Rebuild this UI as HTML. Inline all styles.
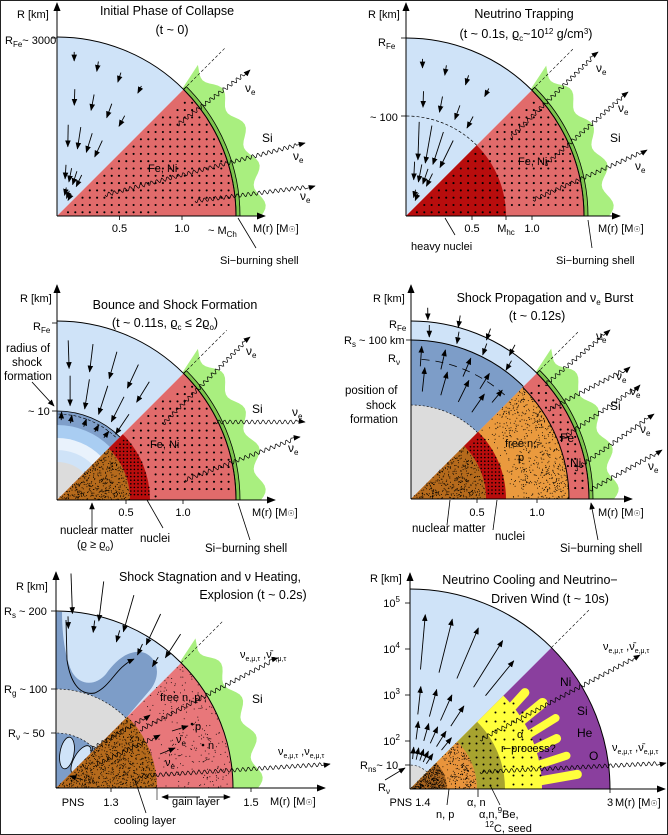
<!DOCTYPE html>
<html><head><meta charset="utf-8">
<style>
html,body{margin:0;padding:0;background:#fff;}
svg{display:block;font-family:"Liberation Sans",sans-serif;}
</style></head>
<body>
<svg id="fig" width="668" height="835" viewBox="0 0 668 835" xmlns="http://www.w3.org/2000/svg">
<defs>
<marker id="ah" viewBox="0 0 10 10" refX="9" refY="5" markerWidth="7" markerHeight="7" orient="auto-start-reverse" markerUnits="userSpaceOnUse"><path d="M0,1 L10,5 L0,9 Z" fill="#000"/></marker>
<marker id="ahb" viewBox="0 0 10 10" refX="9" refY="5" markerWidth="9" markerHeight="9" orient="auto-start-reverse" markerUnits="userSpaceOnUse"><path d="M0,1 L10,5 L0,9 Z" fill="#000"/></marker>
</defs>
<rect x="0.5" y="0.5" width="667" height="834" fill="none" stroke="#222" stroke-width="1"/>
</svg>
<script>
const SVG=document.getElementById('fig');
const NS='http://www.w3.org/2000/svg';
// panel tick labels
const p1Ticks=['0.5','1.0'];
const p1TickM=[0.5,1.0];
const p2Ticks=['0.5','M','1.0'];
const p3Ticks=['0.5','1.0'];
const p4Ticks=['0.5','1.0'];
const p5Ticks=['PNS','1.3','1.5'];
const p6YTicks=['10','10','10','10'];
const p6YExp=['5','4','3','2'];

function mk(tag,attrs,parent,name){
  const e=document.createElementNS(NS,tag);
  for(const k in attrs)e.setAttribute(k,attrs[k]);
  
  
  (parent||SVG).appendChild(e);
  return e;
}
function P(o,r,a){const t=a*Math.PI/180;return [o[0]+r*Math.cos(t),o[1]-r*Math.sin(t)];}
function sector(o,r0,r1,a0,a1,fill,name,extra){
  const A=P(o,r1,a0),B=P(o,r1,a1);
  let d=`M${A[0]},${A[1]} A${r1},${r1} 0 0 0 ${B[0]},${B[1]} `;
  if(r0>0){const C=P(o,r0,a1),D=P(o,r0,a0);d+=`L${C[0]},${C[1]} A${r0},${r0} 0 0 1 ${D[0]},${D[1]} Z`;}
  else d+=`L${o[0]},${o[1]} Z`;
  const at=Object.assign({d:d,fill:fill},extra||{});
  return mk('path',at,null,name);
}
function arc(o,r,a0,a1,name,extra){
  const A=P(o,r,a0),B=P(o,r,a1);
  return mk('path',Object.assign({d:`M${A[0]},${A[1]} A${r},${r} 0 0 0 ${B[0]},${B[1]}`,fill:'none',stroke:'#000','stroke-width':1},extra||{}),null,name);
}
function dots(o,r0,r1,a0,a1,step,rad,name){
  const g=mk('g',{fill:'#000'},null,name);
  for(let x=o[0]+step/2;x<o[0]+r1;x+=step){
    for(let y=o[1]-step/2;y>o[1]-r1;y-=step){
      const dx=x-o[0],dy=o[1]-y,r=Math.hypot(dx,dy),a=Math.atan2(dy,dx)*180/Math.PI;
      if(r>r0+2&&r<r1-2&&a>a0+2&&a<a1-2)mk('circle',{cx:x.toFixed(1),cy:y.toFixed(1),r:rad},g,'dot');
    }
  }
}
function speckle(o,r0,r1,a0,a1,n,name){
  const g=mk('g',{fill:'#000'},null,name);
  let s=7;
  for(let i=0;i<n;i++){
    s=(s*9301+49297)%233280;const u=s/233280;
    s=(s*9301+49297)%233280;const v=s/233280;
    const r=r0+(r1-r0)*Math.sqrt(u),a=a0+(a1-a0)*v;
    const p=P(o,r,a);
    mk('circle',{cx:p[0].toFixed(1),cy:p[1].toFixed(1),r:0.5},g,'speck');
  }
}
function siBlob(o,R,name){
  let pts=[];
  for(let a=0;a<=47;a+=1){const r=R+25+5*Math.sin(2*Math.PI*a/11.5);pts.push(P(o,r,a));}
  const top=P(o,R,45.5);
  let d='M'+pts.map(p=>p[0].toFixed(1)+','+p[1].toFixed(1)).join(' L')+` L${top[0]},${top[1]} `;
  const b=P(o,R,0);d+=`A${R},${R} 0 0 1 ${b[0]},${b[1]} Z`;
  mk('path',{d:d,fill:'#a9ef7f'},null,name);
}
function shell(o,R,name){
  sector(o,R,R+4,0,45,'#7cc44c',name,{stroke:'#000','stroke-width':0.8});
}
function axes(o,yTop,xEnd,name){
  mk('line',{x1:o[0],y1:o[1],x2:o[0],y2:yTop,stroke:'#000','stroke-width':1,'marker-end':'url(#ahb)'},null,name+'-y-axis');
  mk('line',{x1:o[0],y1:o[1],x2:xEnd,y2:o[1],stroke:'#000','stroke-width':1,'marker-end':'url(#ahb)'},null,name+'-x-axis');
}
function text(x,y,s,name,opts){
  opts=opts||{};
  const t=mk('text',{x:x,y:y,'font-size':opts.fs||11,'text-anchor':opts.anchor||'start',fill:'#000'},null,name);
  t.innerHTML=s;return t;
}
function arrow(x1,y1,x2,y2,name){
  mk('line',{x1:x1,y1:y1,x2:x2,y2:y2,stroke:'#000','stroke-width':0.9,'marker-end':'url(#ah)'},null,name);
}
function radialArrows(o,list,inward,name){
  const g=mk('g',{},null,name);
  list.forEach(([r,a,len])=>{
    const p=P(o,r,a);
    const dir=(inward?a+180+6:a)*Math.PI/180;
    const q=[p[0]+len*Math.cos(dir),p[1]-len*Math.sin(dir)];
    mk('line',{x1:p[0].toFixed(1),y1:p[1].toFixed(1),x2:q[0].toFixed(1),y2:q[1].toFixed(1),stroke:'#000','stroke-width':0.9,'marker-end':'url(#ah)'},g,'flow-arrow');
  });
}
function wavy(x1,y1,x2,y2,name){
  const L=Math.hypot(x2-x1,y2-y1),ux=(x2-x1)/L,uy=(y2-y1)/L,nx=-uy,ny=ux;
  let d=`M${x1},${y1}`;
  for(let s=0;s<=L-8;s+=1){const w=2*Math.sin(2*Math.PI*s/5.5);d+=` L${(x1+ux*s+nx*w).toFixed(1)},${(y1+uy*s+ny*w).toFixed(1)}`;}
  d+=` L${x2},${y2}`;
  mk('path',{d:d,fill:'none',stroke:'#000','stroke-width':0.7,'marker-end':'url(#ah)'},null,name);
}
function diag(o,r0,r1,name){const a=P(o,r0,45),b=P(o,r1,45);mk('line',{x1:a[0],y1:a[1],x2:b[0],y2:b[1],stroke:'#000','stroke-width':0.6,'stroke-dasharray':'3,2'},null,name);}
function nu(x,y,name){text(x,y,'ν<tspan font-size="8" dy="3">e</tspan>',name,{fs:12});}
function tick(x,y,name){mk('line',{x1:x,y1:y,x2:x,y2:y+4,stroke:'#000','stroke-width':0.8},null,name);}
function ytick(x,y,name){mk('line',{x1:x-5,y1:y,x2:x,y2:y,stroke:'#000','stroke-width':0.8},null,name);}

/* ---------- Panel 1 ---------- */
(function(){
  const o=[57,216],R=179;
  siBlob(o,R,'p1-si-region');
  sector(o,0,R,45,90,'#cfe3f8','p1-infalling-core');
  sector(o,0,R,0,45,'#e16b6b','p1-fe-ni-core');
  dots(o,0,R,0,45,7.3,1.05,'p1-fe-ni-dots');
  shell(o,R,'p1-si-burning-shell');
  arc(o,R,0,90,'p1-core-boundary');
  diag(o,R,238,'p1-diagonal');
  radialArrows(o,[[165,84,9],[160,75,10],[157,66,10],[155,57,8],[128,82,16],[127,73,16],[125,64,15],[121,56,12],[92,83,22],[92,75,22],[90,67,20],[88,59,18],[52,80,14],[50,73,14],[49,66,14],[48,59,13],[30,72,8],[28,64,8],[26,57,7]],true,'p1-infall-arrows');
  axes(o,3,265,'p1');
  p1Ticks.forEach((t,i)=>{const x=o[0]+p1TickM[i]*(182-57);tick(x,o[1],'p1-tick');text(x,232,t,'p1-tick-label',{anchor:'middle'});});
  text(17,18,'R [km]','p1-y-axis-title');
  text(5,44,'R<tspan font-size="8" dy="3">Fe</tspan><tspan dy="-3">~ 3000</tspan>','p1-rfe-label');
  ytick(o[0],38,'p1-rfe-tick');
  text(167,15,'Initial Phase of Collapse','p1-title',{fs:12.5,anchor:'middle'});
  text(172,34,'(t ~ 0)','p1-subtitle',{fs:12.5,anchor:'middle'});
  text(148,172,'Fe, Ni','p1-fe-ni-label');
  text(262,142,'Si','p1-si-label',{fs:12});
  wavy(177,125,250,70,'p1-neutrino-1');nu(245,92,'p1-nu-label-1');
  wavy(105,195,305,143,'p1-neutrino-2');nu(293,160,'p1-nu-label-2');
  wavy(195,201,315,186,'p1-neutrino-3');nu(300,200,'p1-nu-label-3');
  text(253,232,'M(r) [M<tspan font-size="8">☉</tspan>]','p1-x-axis-title');
  text(208,234,'~ M<tspan font-size="8" dy="3">Ch</tspan>','p1-mch-label');
  mk('line',{x1:238,y1:218,x2:256,y2:248,stroke:'#000','stroke-width':0.8},null,'p1-shell-pointer');
  text(220,264,'Si−burning shell','p1-shell-label');
})();

/* ---------- Panel 2 ---------- */
(function(){
  const o=[406,216],R=178;
  siBlob(o,R,'p2-si-region');
  sector(o,0,R,45,90,'#cfe3f8','p2-infalling-core');
  sector(o,0,R,0,45,'#e16b6b','p2-fe-ni-core');
  sector(o,0,100,0,45,'#b80d0d','p2-heavy-nuclei-core');
  dots(o,0,R,0,45,7.3,1.05,'p2-dots');
  shell(o,R,'p2-si-burning-shell');
  arc(o,R,0,90,'p2-core-boundary');
  arc(o,100,45,90,'p2-trapping-radius',{'stroke-dasharray':'3,2','stroke-width':0.7});
  diag(o,R,238,'p2-diagonal');
  radialArrows(o,[[158,84,9],[156,75,10],[154,66,10],[152,57,9],[126,82,16],[125,73,16],[123,64,15],[120,56,13],[95,82,38],[94,74,38],[92,66,34],[89,58,30],[55,81,18],[54,73,18],[52,65,16],[50,58,14],[28,70,8],[26,62,8]],true,'p2-infall-arrows');
  axes(o,3,620,'p2');
  [[472,'0.5'],[506,'M<tspan font-size="8" dy="3">hc</tspan>'],[532,'1.0']].forEach((t)=>{tick(t[0],o[1],'p2-tick');text(t[0],232,t[1],'p2-tick-label',{anchor:'middle'});});
  text(368,18,'R [km]','p2-y-axis-title');
  text(378,46,'R<tspan font-size="8" dy="3">Fe</tspan>','p2-rfe-label');
  ytick(o[0],38,'p2-rfe-tick');
  text(370,121,'~ 100','p2-100-label');ytick(o[0],116,'p2-100-tick');
  text(524,18,'Neutrino Trapping','p2-title',{fs:12.5,anchor:'middle'});
  text(526,38,'(t ~ 0.1s, ϱ<tspan font-size="8" dy="3">c</tspan><tspan dy="-3">~10</tspan><tspan font-size="8" dy="-4">12</tspan><tspan dy="4"> g/cm</tspan><tspan font-size="8" dy="-4">3</tspan><tspan dy="4">)</tspan>','p2-subtitle',{fs:12.5,anchor:'middle'});
  text(518,165,'Fe, Ni','p2-fe-ni-label');
  text(610,142,'Si','p2-si-label',{fs:12});
  wavy(510,138,598,52,'p2-neutrino-1');nu(596,72,'p2-nu-label-1');
  wavy(545,165,628,92,'p2-neutrino-2');nu(618,112,'p2-nu-label-2');
  wavy(533,200,647,150,'p2-neutrino-3');nu(635,170,'p2-nu-label-3');
  text(598,232,'M(r) [M<tspan font-size="8">☉</tspan>]','p2-x-axis-title');
  mk('line',{x1:455,y1:235,x2:445,y2:218,stroke:'#000','stroke-width':0.8},null,'p2-nuclei-pointer');
  text(411,250,'heavy nuclei','p2-heavy-nuclei-label');
  mk('line',{x1:592,y1:248,x2:588,y2:220,stroke:'#000','stroke-width':0.8},null,'p2-shell-pointer');
  text(556,264,'Si−burning shell','p2-shell-label');
})();

/* ---------- Panel 3 ---------- */
(function(){
  const o=[57,500],R=179;
  siBlob(o,R,'p3-si-region');
  sector(o,0,R,45,90,'#cfe3f8','p3-infalling-core');
  sector(o,0,89,45,90,'#7f9fca','p3-shock-band');
  sector(o,0,75,45,90,'#a9cdf2','p3-ring-1');
  sector(o,0,62,45,90,'#e9f2fc','p3-ring-2');
  sector(o,0,50,45,90,'#cfe3f8','p3-ring-3');
  sector(o,0,38,45,90,'#dcdcdc','p3-inner-core');
  arc(o,89,45,90,'p3-shock-radius',{'stroke-width':0.8});
  arc(o,86,47,90,'p3-shock-dash',{'stroke-dasharray':'3,2','stroke-width':0.6});
  sector(o,0,R,0,45,'#e16b6b','p3-fe-ni-core');
  dots(o,93,R,0,45,7.3,1.05,'p3-fe-ni-dots');
  sector(o,73,93,0,45,'#b80d0d','p3-nuclei-shell');
  dots(o,71,95,0,45,3.6,0.8,'p3-nuclei-dots');
  sector(o,0,73,0,45,'#b56a1c','p3-nuclear-matter');
  speckle(o,0,73,0,45,450,'p3-nuclear-speckle');
  shell(o,R,'p3-si-burning-shell');
  arc(o,R,0,90,'p3-core-boundary');
  diag(o,R,240,'p3-diagonal');
  radialArrows(o,[[160,86,28],[160,77,28],[160,68,28],[158,59,26],[150,52,24],[125,84,30],[125,75,30],[125,66,30],[123,57,28],[112,50,24]],true,'p3-infall-arrows');
  radialArrows(o,[[78,80,8],[78,70,8],[78,61,8],[78,53,8],[80,87,8]],false,'p3-bounce-arrows');
  axes(o,285,275,'p3');
  [[126,'0.5'],[183,'1.0']].forEach(t=>{tick(t[0],o[1],'p3-tick');text(t[0],516,t[1],'p3-tick-label',{anchor:'middle'});});
  text(20,302,'R [km]','p3-y-axis-title');
  text(33,330,'R<tspan font-size="8" dy="3">Fe</tspan>','p3-rfe-label');ytick(o[0],323,'p3-rfe-tick');
  text(28,415,'~ 10','p3-10-label');ytick(o[0],411,'p3-10-tick');
  text(6,352,'radius of','p3-shock-radius-label-1',{fs:11.5});
  text(12,366,'shock','p3-shock-radius-label-2',{fs:11.5});
  text(4,380,'formation','p3-shock-radius-label-3',{fs:11.5});
  arrow(32,382,54,406,'p3-shock-radius-pointer');
  text(175,309,'Bounce and Shock Formation','p3-title',{fs:12.5,anchor:'middle'});
  text(165,327,'(t ~ 0.11s, ϱ<tspan font-size="8" dy="3">c</tspan><tspan dy="-3"> ≤ 2ϱ</tspan><tspan font-size="8" dy="3">o</tspan><tspan dy="-3">)</tspan>','p3-subtitle',{fs:12.5,anchor:'middle'});
  text(150,448,'Fe, Ni','p3-fe-ni-label');
  text(252,413,'Si','p3-si-label',{fs:12});
  wavy(163,424,250,337,'p3-neutrino-1');nu(246,355,'p3-neutrino-label-1');
  wavy(215,422,305,422,'p3-neutrino-2');nu(292,416,'p3-neutrino-label-2');
  wavy(185,480,300,437,'p3-neutrino-3');nu(288,452,'p3-neutrino-label-3');
  text(252,516,'M(r) [M<tspan font-size="8">☉</tspan>]','p3-x-axis-title');
  mk('line',{x1:92,y1:528,x2:92,y2:503,stroke:'#000','stroke-width':0.8,'marker-end':'url(#ah)'},null,'p3-nm-pointer');
  text(60,534,'nuclear matter','p3-nuclear-matter-label',{fs:11.5});
  text(77,548,'(ϱ ≥ ϱ<tspan font-size="8" dy="3">o</tspan><tspan dy="-3">)</tspan>','p3-nm-density-label');
  mk('line',{x1:163,y1:528,x2:147,y2:500,stroke:'#000','stroke-width':0.8},null,'p3-nuclei-pointer');
  text(140,542,'nuclei','p3-nuclei-label',{fs:11.5});
  mk('line',{x1:250,y1:540,x2:238,y2:503,stroke:'#000','stroke-width':0.8},null,'p3-shell-pointer');
  text(205,552,'Si−burning shell','p3-shell-label',{fs:11.5});
})();

/* ---------- Panel 4 ---------- */
(function(){
  const o=[411,499],R=178;
  siBlob(o,R,'p4-si-region');
  sector(o,0,R,45,90,'#cfe3f8','p4-outer-infall');
  sector(o,0,159,45,90,'#7d9dc8','p4-shocked-region');
  sector(o,0,94,45,90,'#dcdcdc','p4-inner-core');
  arc(o,94,45,90,'p4-shock-formation-arc',{'stroke-dasharray':'2,2','stroke-width':0.6});
  arc(o,159,45,90,'p4-shock-radius');
  sector(o,0,R,0,45,'#e16b6b','p4-fe-ni-shell');
  dots(o,158,R,0,45,7.3,1.05,'p4-fe-ni-dots');
  sector(o,0,158,0,45,'#ea9a3e','p4-free-np');
  speckle(o,95,158,0,45,600,'p4-free-np-speckle');
  arc(o,158,0,45,'p4-shock-front');
  sector(o,75,95,0,45,'#b80d0d','p4-nuclei-shell');
  dots(o,73,97,0,45,3.6,0.8,'p4-nuclei-dots');
  sector(o,0,75,0,45,'#b56a1c','p4-nuclear-matter');
  speckle(o,0,75,0,45,400,'p4-nuclear-speckle');
  shell(o,R,'p4-si-burning-shell');
  arc(o,R,0,90,'p4-core-boundary');
  diag(o,R,236,'p4-diagonal');
  radialArrows(o,[[192,85,12],[190,75,12],[188,65,12],[186,56,12],[175,84,12],[174,74,12],[173,64,12],[171,54,11]],true,'p4-infall-arrows');
  radialArrows(o,[[108,84,24],[108,74,24],[108,64,24],[106,55,22],[133,86,20],[133,77,20],[133,67,20],[130,58,18],[126,50,16]],false,'p4-outflow-arrows');
  arc(o,140,48,88,'p4-neutrinosphere',{'stroke-dasharray':'8,6','stroke-width':0.8});
  axes(o,285,632,'p4');
  [[477,'0.5'],[537,'1.0']].forEach(t=>{tick(t[0],o[1],'p4-tick');text(t[0],516,t[1],'p4-tick-label',{anchor:'middle'});});
  text(373,302,'R [km]','p4-y-axis-title');
  text(389,328,'R<tspan font-size="8" dy="3">Fe</tspan>','p4-rfe-label');
  text(344,344,'R<tspan font-size="8" dy="3">s</tspan><tspan dy="-3"> ~ 100 km</tspan>','p4-rs-label');ytick(o[0],340,'p4-rs-tick');
  text(388,362,'R<tspan font-size="8" dy="3">ν</tspan>','p4-rnu-label');
  text(345,394,'position of','p4-shock-position-1',{fs:11.5});
  text(366,409,'shock','p4-shock-position-2',{fs:11.5});
  text(350,423,'formation','p4-shock-position-3',{fs:11.5});
  text(545,302,'Shock Propagation and ν<tspan font-size="8" dy="3">e</tspan><tspan dy="-3"> Burst</tspan>','p4-title',{fs:12.5,anchor:'middle'});
  text(537,320,'(t ~ 0.12s)','p4-subtitle',{fs:12.5,anchor:'middle'});
  text(505,447,'free n,','p4-free-label-1');
  text(518,461,'p','p4-free-label-2');
  text(560,442,'Fe','p4-fe-label',{fs:12});
  text(570,467,'Ni','p4-ni-label',{fs:12});
  text(610,410,'Si','p4-si-label',{fs:12});
  wavy(545,385,610,330,'p4-neutrino-1');nu(596,340,'p4-nu-label-1');
  wavy(548,410,630,367,'p4-neutrino-2');nu(616,380,'p4-nu-label-2');
  wavy(560,440,640,385,'p4-neutrino-3');nu(630,395,'p4-nu-label-3');
  wavy(575,470,654,414,'p4-neutrino-4');nu(640,433,'p4-nu-label-4');
  wavy(590,490,662,450,'p4-neutrino-5');nu(648,470,'p4-nu-label-5');
  text(598,516,'M(r) [M<tspan font-size="8">☉</tspan>]','p4-x-axis-title');
  mk('line',{x1:447,y1:525,x2:450,y2:500,stroke:'#000','stroke-width':0.8},null,'p4-nm-pointer');
  text(412,532,'nuclear matter','p4-nuclear-matter-label',{fs:11.5});
  mk('line',{x1:493,y1:530,x2:497,y2:500,stroke:'#000','stroke-width':0.8},null,'p4-nuclei-pointer');
  text(495,540,'nuclei','p4-nuclei-label',{fs:11.5});
  mk('line',{x1:598,y1:540,x2:591,y2:503,stroke:'#000','stroke-width':0.8,'marker-end':'url(#ah)'},null,'p4-shell-pointer');
  text(560,552,'Si−burning shell','p4-shell-label',{fs:11.5});
})();

/* ---------- Panel 5 ---------- */
(function(){
  const o=[56,788],R=177;
  siBlob(o,R,'p5-si-region');
  sector(o,0,R,45,90,'#cfe3f8','p5-postshock-region');
  mk('path',{d:'M56,612 L56,689 A99,99 0 0 0 126,718 L150,690 C160,678 160,660 145,653 C130,648 116,660 106,674 C96,686 80,686 72,672 C64,655 62,630 62,612 Z',fill:'#7d9dc8'},null,'p5-convective-plume');
  sector(o,55,99,45,90,'#dcdcdc','p5-gain-gap');
  arc(o,99,45,90,'p5-gain-radius',{'stroke-dasharray':'2,2','stroke-width':0.6});
  sector(o,0,55,45,90,'#7d9dc8','p5-pns-convection');
  arc(o,55,45,90,'p5-nu-radius',{'stroke-dasharray':'2,2','stroke-width':0.6});
  mk('ellipse',{cx:67,cy:753,rx:7,ry:16,fill:'#cfe3f8',stroke:'#000','stroke-width':0.8,transform:'rotate(10 67 753)'},null,'p5-convection-cell-1');
  mk('ellipse',{cx:81,cy:760,rx:7,ry:16,fill:'#cfe3f8',stroke:'#000','stroke-width':0.8,transform:'rotate(30 81 760)'},null,'p5-convection-cell-2');
  sector(o,0,R,0,45,'#e8777a','p5-gain-layer');
  speckle(o,101,R,0,45,250,'p5-gain-speckle');
  sector(o,0,101,0,45,'#b56a1c','p5-cooling-layer');
  speckle(o,0,101,0,45,800,'p5-cooling-speckle');
  arc(o,R,0,90,'p5-shock-front');
  diag(o,R,236,'p5-diagonal');
  radialArrows(o,[[215,86,40],[212,77,40],[208,68,38],[203,59,34],[198,51,28],[172,86,12],[172,77,12],[170,68,12],[168,59,12],[166,52,11]],true,'p5-infall-arrows');
  mk('path',{d:'M134,659 C115,668 112,685 95,693 C78,696 70,680 67,660 L66,620',fill:'none',stroke:'#000','stroke-width':0.9,'marker-start':'url(#ah)'},null,'p5-circulation-arrow');
  arrow(83,780,70,776,'p5-pns-arrow');
  axes(o,572,325,'p5');
  [[73,'PNS'],[111,'1.3'],[251,'1.5']].forEach(t=>{if(t[1]!=='PNS')tick(t[0],o[1],'p5-tick');text(t[0],806,t[1],'p5-tick-label',{anchor:'middle'});});
  mk('line',{x1:157,y1:788,x2:157,y2:800,stroke:'#000','stroke-width':0.6},null,'p5-gain-inner-tick');
  arrow(200,797,162,797,'p5-gain-arrow-left');
  arrow(208,797,230,797,'p5-gain-arrow-right');
  text(172,805,'gain layer','p5-gain-layer-label');
  mk('line',{x1:146,y1:813,x2:135,y2:780,stroke:'#000','stroke-width':0.8},null,'p5-cooling-pointer');
  text(114,824,'cooling layer','p5-cooling-layer-label');
  text(16,590,'R [km]','p5-y-axis-title');
  text(4,615,'R<tspan font-size="8" dy="3">s</tspan><tspan dy="-3"> ~ 200</tspan>','p5-rs-label');ytick(o[0],611,'p5-rs-tick');
  text(4,693,'R<tspan font-size="8" dy="3">g</tspan><tspan dy="-3"> ~ 100</tspan>','p5-rg-label');ytick(o[0],689,'p5-rg-tick');
  text(8,737,'R<tspan font-size="8" dy="3">ν</tspan><tspan dy="-3"> ~ 50</tspan>','p5-rnu-label');ytick(o[0],733,'p5-rnu-tick');
  text(210,581,'Shock Stagnation and ν Heating,','p5-title',{fs:12.5,anchor:'middle'});
  text(253,599,'Explosion  (t ~ 0.2s)','p5-subtitle',{fs:12.5,anchor:'middle'});
  text(160,701,'free n, p','p5-free-np-label');
  text(195,730,'p','p5-p-label');mk('circle',{cx:192,cy:724,r:1.3},null,'p5-proton');
  text(208,749,'n','p5-n-label');mk('circle',{cx:203,cy:745,r:1.3},null,'p5-neutron');
  text(176,743,'ν̄<tspan font-size="8" dy="3">e</tspan>','p5-antinu-label');
  text(165,766,'ν<tspan font-size="8" dy="3">e</tspan>','p5-nu-label');
  arrow(172,731,188,726,'p5-antinu-arrow');
  arrow(160,754,175,748,'p5-nu-arrow');
  text(252,703,'Si','p5-si-label',{fs:12});
  wavy(140,730,278,658,'p5-neutrino-1');
  text(240,658,'ν<tspan font-size="7" dy="3">e,μ,τ</tspan><tspan dy="-3"> ,ν̄</tspan><tspan font-size="7" dy="3">e,μ,τ</tspan>','p5-nu-species-1');
  wavy(140,776,330,764,'p5-neutrino-2');
  text(278,755,'ν<tspan font-size="7" dy="3">e,μ,τ</tspan><tspan dy="-3"> ,ν</tspan><tspan font-size="7" dy="3">e,μ,τ</tspan>','p5-nu-species-2');
  wavy(90,750,150,715,'p5-neutrino-3');
  wavy(95,765,160,735,'p5-neutrino-4');
  text(270,805,'M(r) [M<tspan font-size="8">☉</tspan>]','p5-x-axis-title');
})();

/* ---------- Panel 6 ---------- */
(function(){
  const o=[410,789],R=200;
  sector(o,0,R,45,90,'#cfe3f8','p6-wind-region');
  sector(o,0,24,45,90,'#dcdcdc','p6-pns-surface');
  arc(o,24,45,90,'p6-pns-arc',{'stroke-dasharray':'2,2','stroke-width':0.6});
  sector(o,0,R,0,45,'#8a3f9e','p6-ejecta-shells');
  sector(o,0,132,0,45,'#ffff3c','p6-alpha-region');
  const fg=mk('g',{stroke:'#ffff3c','stroke-linecap':'round',fill:'none'},null,'p6-yellow-fingers');
  [[3,168,9],[10,160,8],[17,155,9],[24,162,8],[31,158,10],[38,150,9]].forEach(([a,r,w])=>{const p=P(o,120,a),q=P(o,r,a+2);mk('line',{x1:p[0],y1:p[1],x2:q[0],y2:q[1],'stroke-width':w},fg,'finger');});
  dots(o,95,142,0,45,9,1,'p6-alpha-dots');
  sector(o,0,95,0,45,'#a7a32f','p6-seed-region');
  dots(o,67,95,0,45,7,1,'p6-seed-dots');
  sector(o,0,67,0,45,'#e8943c','p6-np-region');
  speckle(o,37,67,0,45,200,'p6-np-speckle');
  sector(o,0,37,0,45,'#a8641f','p6-pns-core');
  speckle(o,0,37,0,45,300,'p6-pns-speckle');
  arc(o,R,0,90,'p6-outer-boundary');
  diag(o,R,255,'p6-diagonal');
  radialArrows(o,[[30,85,12],[30,78,12],[30,71,12],[30,64,12],[30,57,12],[50,83,18],[50,74,18],[50,66,18],[50,58,18],[50,51,16],[75,84,28],[75,75,28],[75,66,28],[75,57,24],[120,85,55],[120,76,55],[120,67,55],[120,58,55],[120,51,45]],false,'p6-wind-arrows');
  axes(o,573,665,'p6');
  const yt=[603,649,695,741];
  p6YTicks.forEach((t,i)=>{ytick(o[0],yt[i],'p6-y-tick');text(400,yt[i]+4,t+'<tspan font-size="8" dy="-5">'+p6YExp[i]+'</tspan>','p6-y-tick-label',{anchor:'end'});});
  text(370,582,'R [km]','p6-y-axis-title');
  text(360,769,'R<tspan font-size="8" dy="3">ns</tspan><tspan dy="-3">~ 10</tspan>','p6-rns-label');ytick(o[0],765,'p6-rns-tick');
  text(378,791,'R<tspan font-size="8" dy="3">ν</tspan>','p6-rnu-label');
  arrow(385,780,405,768,'p6-rnu-arrow');
  text(530,584,'Neutrino Cooling and Neutrino−','p6-title',{fs:12.5,anchor:'middle'});
  text(550,603,'Driven Wind  (t ~ 10s)','p6-subtitle',{fs:12.5,anchor:'middle'});
  text(560,686,'Ni','p6-ni-label',{fs:12});
  text(577,715,'Si','p6-si-label',{fs:12});
  text(577,737,'He','p6-he-label',{fs:12});
  text(589,760,'O','p6-o-label',{fs:12});
  text(517,738,'α','p6-alpha-label');
  text(501,752,'r−process?','p6-rprocess-label');
  wavy(480,740,640,655,'p6-neutrino-1');
  text(603,650,'ν<tspan font-size="7" dy="3">e,μ,τ</tspan><tspan dy="-3"> ,ν̄</tspan><tspan font-size="7" dy="3">e,μ,τ</tspan>','p6-nu-species-1');
  wavy(480,772,666,763,'p6-neutrino-2');
  text(612,751,'ν<tspan font-size="7" dy="3">e,μ,τ</tspan><tspan dy="-3"> ,ν̄</tspan><tspan font-size="7" dy="3">e,μ,τ</tspan>','p6-nu-species-2');
  tick(610,o[1],'p6-tick-3');
  text(410,806,'PNS 1.4','p6-pns-label',{anchor:'middle'});
  text(610,806,'3','p6-tick-3-label',{anchor:'middle'});
  text(615,806,'M(r) [M<tspan font-size="8">☉</tspan>]','p6-x-axis-title');
  mk('line',{x1:447,y1:805,x2:449,y2:789,stroke:'#000','stroke-width':0.8},null,'p6-np-pointer');
  text(436,818,'n, p','p6-np-label');
  text(467,806,'α, n','p6-alpha-n-label');
  mk('line',{x1:478,y1:797,x2:478,y2:789,stroke:'#000','stroke-width':0.8},null,'p6-alpha-n-pointer');
  mk('line',{x1:500,y1:805,x2:490,y2:785,stroke:'#000','stroke-width':0.8},null,'p6-seed-pointer');
  text(479,818,'α,n,<tspan font-size="8" dy="-5">9</tspan><tspan dy="5">Be,</tspan>','p6-seed-label-1');
  text(485,832,'<tspan font-size="8" dy="-5">12</tspan><tspan dy="5">C, seed</tspan>','p6-seed-label-2');
})();
</script>
</body></html>
